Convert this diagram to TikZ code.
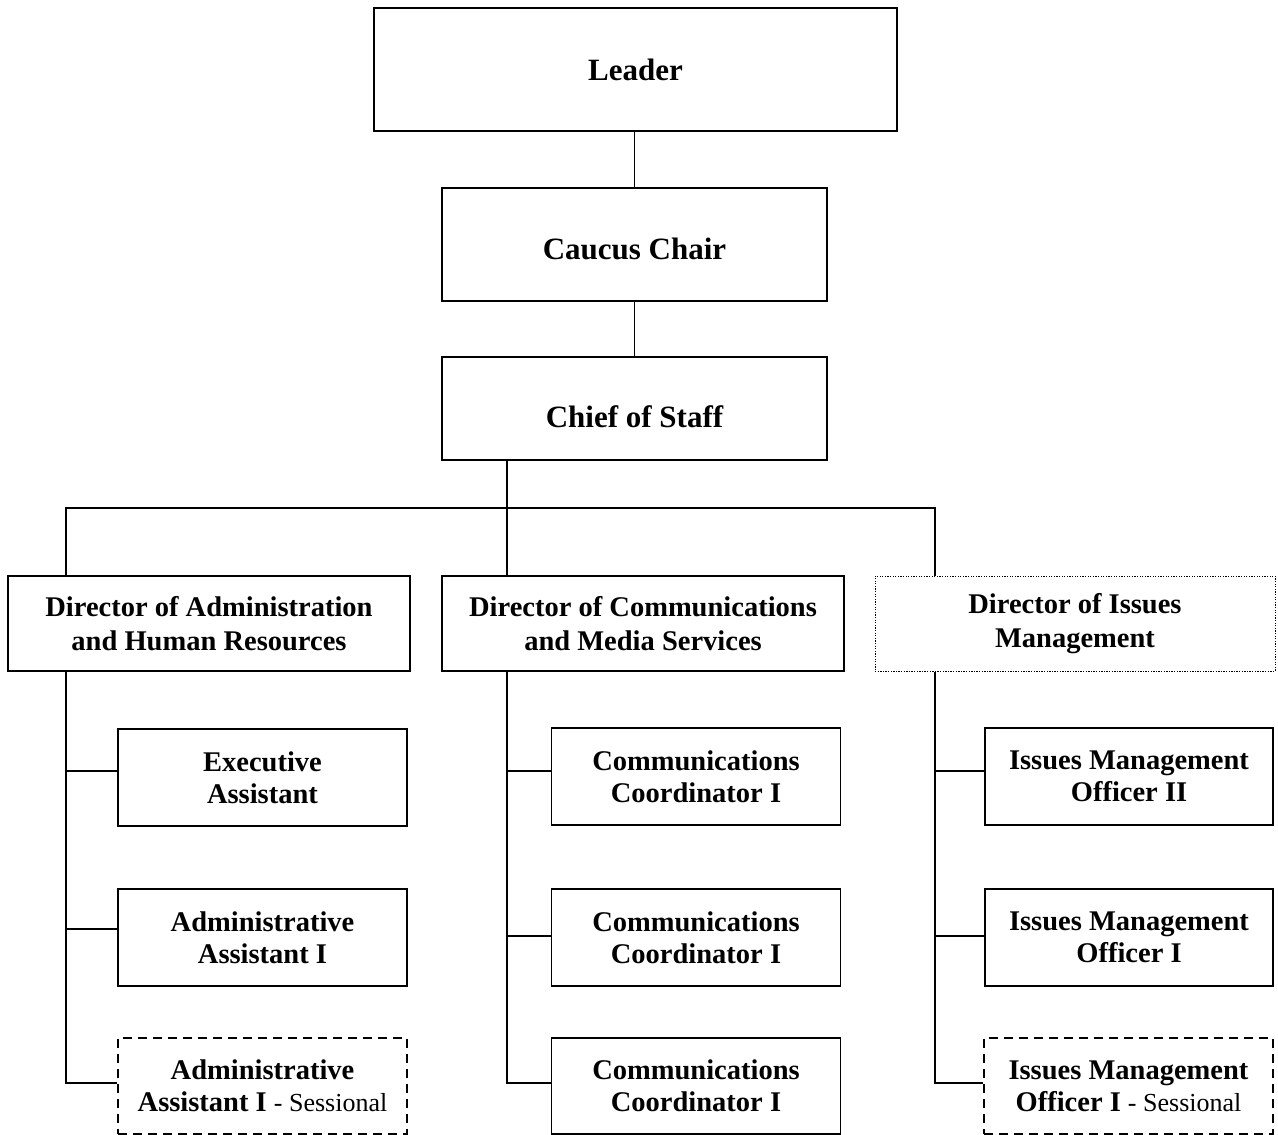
\documentclass[tikz,border=0pt]{standalone}
\usepackage{fontspec}
\setmainfont{Liberation Serif}
\begin{document}
\begin{tikzpicture}[x=1pt,y=-1pt,
  box/.style={draw=black,line width=1.6pt,fill=white,inner sep=0pt,align=center,
    font=\fontsize{28.5}{32}\selectfont\bfseries},
  topbox/.style={box,font=\fontsize{31}{34}\selectfont\bfseries},
  dirbox/.style={box,font=\fontsize{28.5}{34}\selectfont\bfseries},
  sess/.style={box,dashed,dash pattern=on 9pt off 6pt},
  dot/.style={dirbox,line width=1pt,dash pattern=on 1.3pt off 1.3pt},
  conn/.style={draw=black,line width=1.4pt}
]
\useasboundingbox (0,0) rectangle (1278,1135);
% top chain
\node[topbox,minimum width=523pt,minimum height=123pt] (leader) at (635.5,69.5) {Leader};
\node[topbox,minimum width=385pt,minimum height=113pt] (caucus) at (634.5,244.5) {\raisebox{-4pt}[\height][\depth]{Caucus Chair}};
\node[topbox,minimum width=385pt,minimum height=103pt] (chief) at (634.5,408.5) {\raisebox{-8pt}[\height][\depth]{Chief of Staff}};
% directors
\node[dirbox,minimum width=402pt,minimum height=95pt] (dadmin) at (209,623.5) {Director of Administration\\and Human Resources};
\node[dirbox,minimum width=402pt,minimum height=95pt] (dcomm) at (643,623.5) {Director of Communications\\and Media Services};
\node[dot,minimum width=400pt,minimum height=95pt] (dissue) at (1075,623.5) {Director of Issues\\Management};
% left column
\node[box,minimum width=289pt,minimum height=97pt] (ea) at (262.5,777.5) {Executive\\Assistant};
\node[box,minimum width=289pt,minimum height=97pt] (aa) at (262.5,937.5) {Administrative\\Assistant I};
\node[sess,minimum width=289pt,minimum height=96pt] (aas) at (262.5,1086) {Administrative\\Assistant I {\fontsize{26}{32}\selectfont\mdseries - Sessional}};
% middle column
\node[box,minimum width=289pt,minimum height=97pt] (cc1) at (696,776.5) {Communications\\Coordinator I};
\node[box,minimum width=289pt,minimum height=97pt] (cc2) at (696,937.5) {Communications\\Coordinator I};
\node[box,minimum width=289pt,minimum height=96pt] (cc3) at (696,1086) {Communications\\Coordinator I};
% right column
\node[box,minimum width=288pt,minimum height=97pt] (im2) at (1129,776.5) {Issues Management\\Officer II};
\node[box,minimum width=288pt,minimum height=97pt] (im1) at (1129,937.5) {Issues Management\\Officer I};
\node[sess,minimum width=289pt,minimum height=96pt] (ims) at (1128.5,1086) {Issues Management\\Officer I {\fontsize{26}{32}\selectfont\mdseries - Sessional}};
% connectors
\coordinate (busL) at (66,508);
\coordinate (busM) at (507,508);
\coordinate (busR) at (935,508);
\draw[conn] (caucus.north) -- (caucus.north |- leader.south);
\draw[conn] (chief.north) -- (chief.north |- caucus.south);
\draw[conn] (chief.south -| busM) -- (dcomm.north -| busM);
\draw[conn] (dadmin.north -| busL) -- (busL) -- (busR) -- (dissue.north -| busR);
% trunks
\coordinate (a1) at (66,771); \coordinate (a2) at (66,929); \coordinate (a3) at (66,1083);
\coordinate (m1) at (507,771); \coordinate (m2) at (507,936); \coordinate (m3) at (507,1083);
\coordinate (r1) at (935,771); \coordinate (r2) at (935,936); \coordinate (r3) at (935,1083);
\draw[conn] (dadmin.south -| a1) -- (a3) -- (a3 -| aas.west);
\draw[conn] (a1) -- (a1 -| ea.west);
\draw[conn] (a2) -- (a2 -| aa.west);
\draw[conn] (dcomm.south -| m1) -- (m3) -- (m3 -| cc3.west);
\draw[conn] (m1) -- (m1 -| cc1.west);
\draw[conn] (m2) -- (m2 -| cc2.west);
\draw[conn] (dissue.south -| r1) -- (r3) -- (r3 -| ims.west);
\draw[conn] (r1) -- (r1 -| im2.west);
\draw[conn] (r2) -- (r2 -| im1.west);
\end{tikzpicture}
\end{document}
